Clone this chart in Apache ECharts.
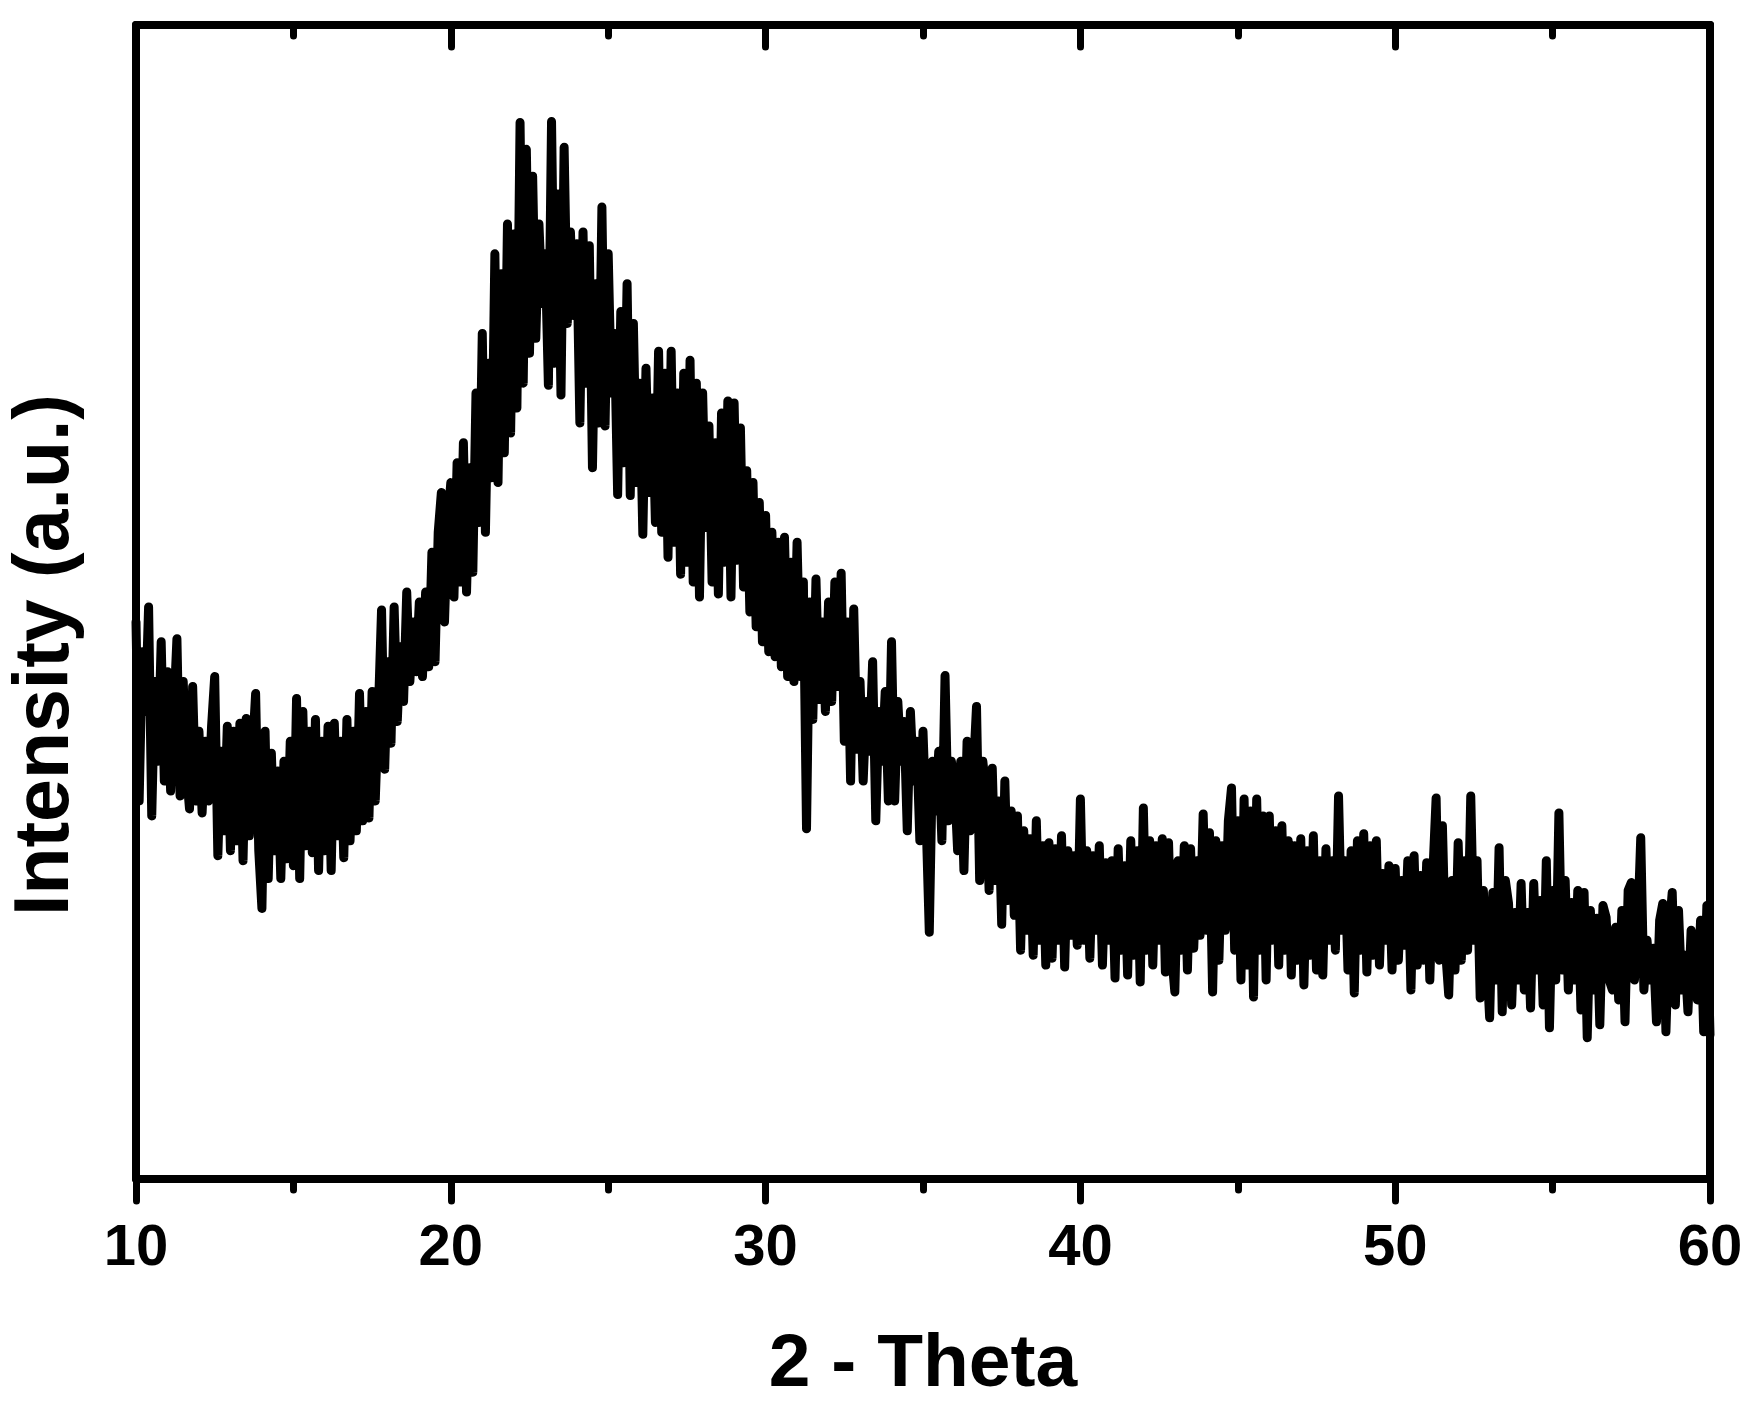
<!DOCTYPE html>
<html>
<head>
<meta charset="utf-8">
<title>XRD pattern</title>
<script src="https://cdn.jsdelivr.net/npm/echarts@6/dist/echarts.min.js"></script>
<style>
  html, body { margin: 0; padding: 0; background: #fff; }
  #chart { width: 1754px; height: 1408px; }
</style>
</head>
<body>
<div id="chart"></div>
<script>
// 2-theta sampling grid of the trace
var thetaStart = 10;
var thetaStep = 0.1;

// intensity (a.u.), one row per degree: 10.0 ... 10.9, 11.0 ... etc.
var intensity = [
  560, 380, 530, 470, 575, 365, 500, 420, 540, 400,   // 10
  510, 390, 470, 543, 385, 500, 410, 372, 495, 380,   // 11
  450, 368, 440, 380, 455, 505, 325, 430, 350, 455,   // 12
  330, 450, 340, 458, 320, 463, 345, 430, 488, 330,   // 13
  272, 450, 302, 428, 330, 410, 302, 420, 322, 440,   // 14
  315, 483, 302, 470, 335, 450, 328, 462, 310, 440,   // 15
  330, 455, 310, 458, 345, 440, 323, 462, 340, 450,   // 16
  350, 488, 360, 470, 363, 490, 380, 470, 572, 412,   // 17
  520, 438, 575, 460, 535, 480, 590, 500, 560, 510,   // 18
  580, 505, 590, 515, 630, 520, 650, 690, 560, 660,   // 19
  700, 585, 720, 600, 740, 590, 715, 610, 790, 660,   // 20
  850, 650, 820, 705, 930, 700, 910, 730, 960, 750,   // 21
  950, 775, 1062, 800, 1035, 830, 1008, 845, 960, 880, // 22
  930, 798, 1063, 820, 990, 788, 1037, 860, 952, 868, // 23
  940, 760, 952, 800, 938, 715, 900, 760, 977, 757,   // 24
  930, 790, 850, 688, 872, 720, 900, 687, 860, 700,   // 25
  800, 648, 815, 690, 785, 660, 832, 650, 810, 625,   // 26
  832, 640, 790, 608, 810, 620, 823, 600, 800, 585,   // 27
  790, 655, 757, 600, 740, 588, 770, 620, 782, 585,   // 28
  780, 622, 755, 595, 712, 570, 700, 555, 680, 540,   // 29
  667, 530, 650, 525, 640, 515, 645, 505, 620, 500,   // 30
  640, 505, 600, 352, 580, 462, 603, 482, 560, 470,   // 31
  580, 480, 600, 495, 609, 440, 560, 400, 573, 432,   // 32
  500, 400, 480, 430, 520, 360, 470, 420, 490, 380,   // 33
  540, 380, 480, 420, 460, 350, 470, 400, 440, 340,   // 34
  450, 360, 248, 420, 370, 430, 340, 506, 360, 420,   // 35
  400, 330, 420, 310, 440, 350, 410, 475, 300, 420,   // 36
  390, 290, 413, 300, 380, 256, 400, 280, 370, 265,   // 37
  365, 230, 350, 250, 342, 225, 360, 240, 335, 215,   // 38
  338, 222, 332, 240, 345, 213, 330, 245, 325, 235,   // 39
  382, 240, 330, 222, 325, 250, 335, 215, 318, 240,   // 40
  320, 202, 332, 230, 315, 205, 340, 225, 330, 198,   // 41
  373, 230, 340, 215, 335, 240, 342, 208, 338, 225,   // 42
  188, 320, 230, 335, 210, 332, 232, 320, 245, 367,   // 43
  250, 348, 188, 340, 220, 335, 250, 360, 393, 230,   // 44
  360, 200, 382, 215, 370, 183, 382, 230, 365, 200,   // 45
  365, 240, 350, 215, 355, 230, 340, 205, 335, 220,   // 46
  342, 195, 330, 225, 345, 210, 320, 205, 332, 240,   // 47
  320, 230, 385, 250, 320, 210, 330, 187, 340, 230,   // 48
  347, 208, 335, 225, 340, 215, 307, 240, 315, 210,   // 49
  312, 220, 300, 235, 320, 190, 325, 215, 305, 220,   // 50
  318, 200, 310, 383, 220, 355, 230, 185, 300, 210,   // 51
  338, 220, 320, 230, 385, 240, 320, 182, 290, 225,   // 52
  162, 288, 200, 333, 168, 300, 277, 175, 268, 200,   // 53
  297, 190, 268, 172, 297, 210, 280, 175, 320, 152,   // 54
  290, 200, 368, 210, 300, 190, 278, 200, 290, 170,   // 55
  288, 142, 270, 190, 262, 155, 275, 263, 200, 190,   // 56
  253, 180, 270, 158, 290, 298, 200, 250, 343, 190,   // 57
  240, 200, 232, 158, 260, 277, 148, 250, 288, 175,   // 58
  270, 190, 225, 168, 250, 237, 180, 260, 148, 275,   // 59
  145                                                 // 60
];

var xTickValues = [10, 20, 30, 40, 50, 60];

var chart = echarts.init(document.getElementById('chart'), null, { renderer: 'canvas' });

var seriesData = intensity.map(function (v, i) {
  return [+(thetaStart + i * thetaStep).toFixed(2), v];
});

var fontFam = '"Liberation Sans", Arial, sans-serif';
var axisLine = { show: true, onZero: false, lineStyle: { color: '#000', width: 8 } };

var option = {
  animation: false,
  backgroundColor: '#fff',
  grid: { left: 136, right: 44, top: 25, bottom: 223, containLabel: false },
  xAxis: [
    {
      type: 'value',
      position: 'bottom',
      min: xTickValues[0],
      max: xTickValues[xTickValues.length - 1],
      interval: 10,
      name: '2 - Theta',
      nameLocation: 'middle',
      nameGap: 149,
      nameTextStyle: { fontFamily: fontFam, fontWeight: 'bold', fontSize: 75, color: '#000' },
      axisLine: axisLine,
      axisTick: { show: true, inside: false, length: 22, lineStyle: { color: '#000', width: 7, cap: 'round' } },
      minorTick: { show: true, splitNumber: 2, length: 11, lineStyle: { color: '#000', width: 7, cap: 'round' } },
      axisLabel: { margin: 41, fontFamily: fontFam, fontWeight: 'bold', fontSize: 58, color: '#000' },
      splitLine: { show: false },
      minorSplitLine: { show: false }
    },
    {
      type: 'value',
      position: 'top',
      min: xTickValues[0],
      max: xTickValues[xTickValues.length - 1],
      interval: 10,
      axisLine: axisLine,
      axisTick: { show: true, inside: true, length: 22, lineStyle: { color: '#000', width: 7, cap: 'round' } },
      minorTick: { show: true, splitNumber: 2, length: 11, lineStyle: { color: '#000', width: 7, cap: 'round' } },
      axisLabel: { show: false },
      splitLine: { show: false }
    }
  ],
  yAxis: [
    {
      type: 'value',
      position: 'left',
      min: 0,
      max: 1160,
      axisLine: axisLine,
      axisTick: { show: false },
      axisLabel: { show: false },
      splitLine: { show: false }
    },
    {
      type: 'value',
      position: 'right',
      min: 0,
      max: 1160,
      axisLine: axisLine,
      axisTick: { show: false },
      axisLabel: { show: false },
      splitLine: { show: false }
    }
  ],
  graphic: [
    {
      type: 'text',
      x: 47,
      y: 655,
      rotation: Math.PI / 2,
      style: {
        text: 'Intensity (a.u.)',
        fill: '#000',
        font: 'bold 77px ' + fontFam,
        textAlign: 'center',
        textVerticalAlign: 'middle'
      }
    }
  ],
  series: [
    {
      type: 'line',
      xAxisIndex: 0,
      yAxisIndex: 0,
      data: seriesData,
      showSymbol: false,
      symbol: 'none',
      lineStyle: { color: '#000', width: 9, join: 'round', cap: 'round' },
      z: 1
    }
  ]
};

chart.setOption(option);
</script>
</body>
</html>
